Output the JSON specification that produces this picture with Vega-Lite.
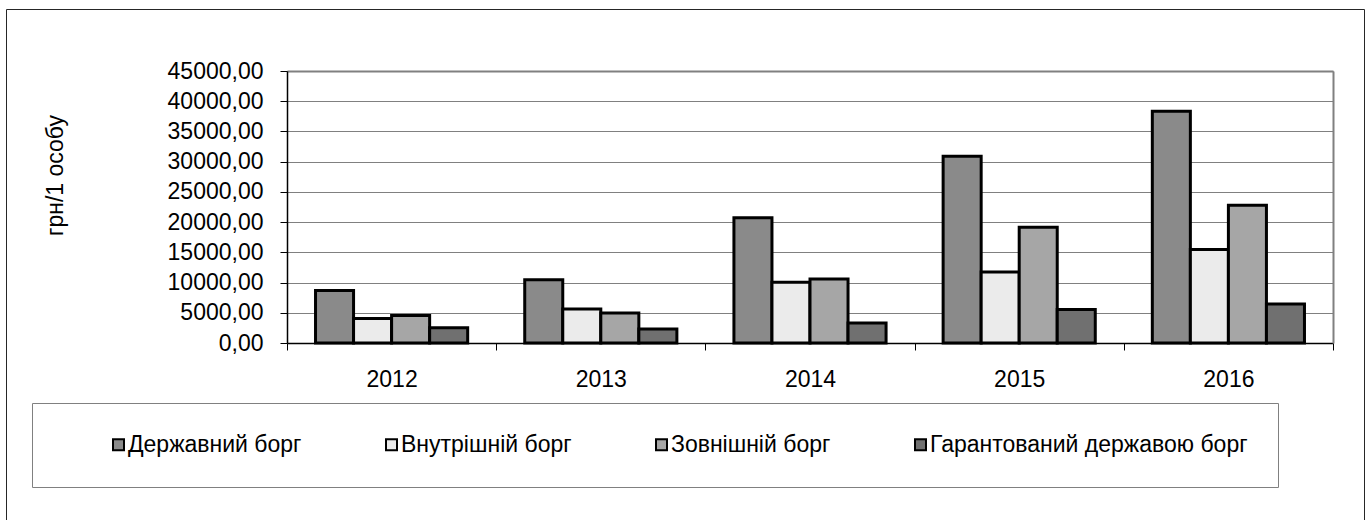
{
  "$schema": "https://vega.github.io/schema/vega-lite/v6.json",
  "width": 1358,
  "height": 511,
  "autosize": {"type": "none"},
  "padding": {"left": 6, "top": 9, "right": 7, "bottom": 0},
  "background": "white",
  "view": {"stroke": "#262626", "strokeWidth": 1, "fill": "white"},
  "config": {"font": "Liberation Sans"},
  "data": {
    "values": [
      {"year": "2012", "series": "Державний борг", "value": 8670},
      {"year": "2012", "series": "Внутрішній борг", "value": 4040},
      {"year": "2012", "series": "Зовнішній борг", "value": 4550},
      {"year": "2012", "series": "Гарантований державою борг", "value": 2540},
      {"year": "2013", "series": "Державний борг", "value": 10460},
      {"year": "2013", "series": "Внутрішній борг", "value": 5630},
      {"year": "2013", "series": "Зовнішній борг", "value": 4960},
      {"year": "2013", "series": "Гарантований державою борг", "value": 2320},
      {"year": "2014", "series": "Державний борг", "value": 20740},
      {"year": "2014", "series": "Внутрішній борг", "value": 10040},
      {"year": "2014", "series": "Зовнішній борг", "value": 10590},
      {"year": "2014", "series": "Гарантований державою борг", "value": 3310},
      {"year": "2015", "series": "Державний борг", "value": 30890},
      {"year": "2015", "series": "Внутрішній борг", "value": 11750},
      {"year": "2015", "series": "Зовнішній борг", "value": 19140},
      {"year": "2015", "series": "Гарантований державою борг", "value": 5530},
      {"year": "2016", "series": "Державний борг", "value": 38330},
      {"year": "2016", "series": "Внутрішній борг", "value": 15450},
      {"year": "2016", "series": "Зовнішній борг", "value": 22780},
      {"year": "2016", "series": "Гарантований державою борг", "value": 6450}
    ]
  },
  "layer": [
    {
      "mark": {"type": "bar", "stroke": "black", "strokeWidth": 3},
      "encoding": {
        "x": {
          "field": "year", "type": "nominal",
          "scale": {"range": [281, 1327], "paddingInner": 0, "paddingOuter": 0},
          "axis": {
            "orient": "bottom", "offset": -177, "title": null, "labelAngle": 0,
            "labelFontSize": 23, "labelColor": "black", "labelPadding": 18,
            "tickBand": "extent", "tickSize": 7, "tickColor": "black",
            "domainColor": "black", "domainWidth": 1.5, "grid": false
          }
        },
        "xOffset": {
          "field": "series", "type": "nominal",
          "scale": {"domain": ["Державний борг", "Внутрішній борг", "Зовнішній борг", "Гарантований державою борг"], "paddingInner": 0, "paddingOuter": 0.75}
        },
        "y": {
          "field": "value", "type": "quantitative",
          "scale": {"domain": [0, 45000], "range": [334, 62], "nice": false},
          "axis": {
            "orient": "left", "offset": -281,
            "values": [0, 5000, 10000, 15000, 20000, 25000, 30000, 35000, 40000, 45000],
            "labelExpr": "replace(format(datum.value, '.2f'), '.', ',')",
            "labelFontSize": 23, "labelColor": "black", "labelPadding": 17, "labelOverlap": false,
            "tickSize": 7, "tickColor": "black", "domainColor": "black", "domainWidth": 1.5,
            "grid": true, "gridColor": "#808080", "gridWidth": 1,
            "title": "грн/1 особу", "titleFontSize": 23, "titleFontWeight": "normal", "titleColor": "black",
            "titleX": -232, "titleY": 166, "titleAngle": -90, "titleAlign": "center", "titleBaseline": "middle"
          }
        },
        "fill": {
          "field": "series", "type": "nominal",
          "scale": {
            "domain": ["Державний борг", "Внутрішній борг", "Зовнішній борг", "Гарантований державою борг"],
            "range": ["#8a8a8a", "#ebebeb", "#a6a6a6", "#707070"]
          },
          "legend": {
            "orient": "none", "legendX": 26, "legendY": 394, "direction": "horizontal",
            "title": null, "symbolOffset": 45,
            "padding": 30, "strokeColor": "#808080", "fillColor": "white",
            "symbolType": "square", "symbolSize": 121, "symbolStrokeColor": "black", "symbolStrokeWidth": 2,
            "labelFontSize": 23, "labelColor": "black", "labelOffset": -2, "labelLimit": 600,
            "columnPadding": 33
          }
        }
      }
    },
    {
      "mark": {"type": "bar", "opacity": 0},
      "encoding": {
        "x": {
          "field": "year", "type": "nominal",
          "axis": {"orient": "top", "offset": -62, "labels": false, "ticks": false, "title": null, "grid": false, "domainColor": "#808080", "domainWidth": 2}
        },
        "y": {
          "field": "value", "type": "quantitative",
          "axis": {"orient": "right", "offset": -31, "labels": false, "ticks": false, "title": null, "grid": false, "domainColor": "#808080", "domainWidth": 2}
        }
      }
    }
  ],
  "resolve": {"axis": {"x": "independent", "y": "independent"}}
}
